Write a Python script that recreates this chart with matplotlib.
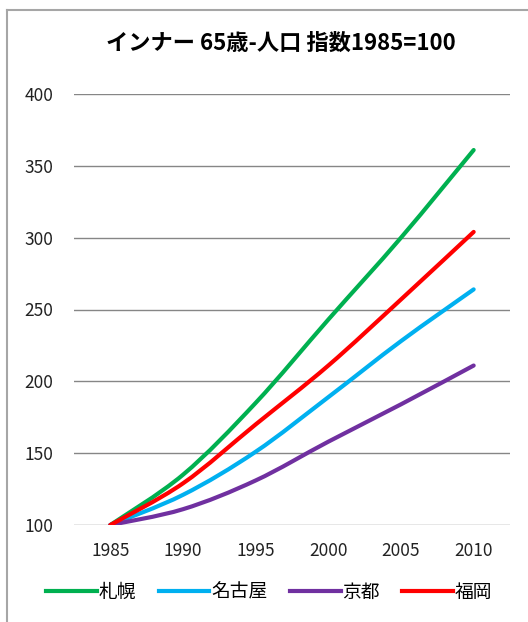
import matplotlib.pyplot as plt
import numpy as np
from matplotlib.lines import Line2D
from matplotlib.patches import PathPatch
from matplotlib.path import Path

plt.rcParams["font.family"] = ["Noto Sans CJK JP", "DejaVu Sans"]

years = ["1985", "1990", "1995", "2000", "2005", "2010"]
sapporo = [100, 135, 185, 243, 300, 361]
nagoya = [100, 121, 151, 189, 228, 264]
kyoto = [100, 111, 131, 158, 184, 211]
fukuoka = [100, 129, 170, 211, 257, 304]

series = [
    ("札幌", sapporo, "#00B050"),
    ("名古屋", nagoya, "#00B0F0"),
    ("京都", kyoto, "#7030A0"),
    ("福岡", fukuoka, "#FF0000"),
]


def smooth_path(xs, ys, k=1 / 6):
    # Excel-style smoothed line: cubic bezier through the points
    pts = np.column_stack([xs, ys]).astype(float)
    verts = [pts[0]]
    codes = [Path.MOVETO]
    n = len(pts)
    for i in range(n - 1):
        p0 = pts[max(i - 1, 0)]
        p1 = pts[i]
        p2 = pts[i + 1]
        p3 = pts[min(i + 2, n - 1)]
        c1 = p1 + (p2 - p0) * k
        c2 = p2 - (p3 - p1) * k
        verts += [c1, c2, p2]
        codes += [Path.CURVE4] * 3
    return Path(verts, codes)


fig = plt.figure(figsize=(5.28, 6.22), dpi=100)
ax = fig.add_axes([74 / 528, 1 - 525 / 622, 436 / 528, 431 / 622])

x = np.arange(len(years))
for name, vals, color in series:
    patch = PathPatch(smooth_path(x, vals), facecolor="none", edgecolor=color,
                      lw=3, capstyle="round", joinstyle="round", zorder=3)
    ax.add_patch(patch)

ax.set_xlim(-0.5, len(years) - 0.5)
ax.set_ylim(100, 400)
ax.set_yticks(range(100, 401, 50))
ax.set_xticks(x)
ax.set_xticklabels(years)
ax.grid(axis="y", color="#868686", lw=1)
ax.set_axisbelow(True)
for s in ax.spines.values():
    s.set_visible(False)
ax.tick_params(axis="both", length=0, labelsize=12.5, colors="#222222")
ax.tick_params(axis="x", pad=12)
ax.tick_params(axis="y", pad=15)

fig.text(0.532, 1 - 43 / 622, "インナー 65歳-人口 指数1985=100", ha="center",
         va="center", fontsize=16, fontweight="bold")

handles = [Line2D([], [], color=c, lw=3) for _, _, c in series]
fig.legend(handles, [n for n, _, _ in series], loc="center",
           bbox_to_anchor=(0.51, 1 - 592 / 622), ncol=4, frameon=False,
           fontsize=13.5, handlelength=2.7, handletextpad=0.1, columnspacing=1.2)

# outer chart border (top and left only visible)
fig.add_artist(Line2D([7 / 528, 7 / 528], [0, 1 - 10 / 622], color="#A6A6A6",
                      lw=1.5, transform=fig.transFigure))
fig.add_artist(Line2D([7 / 528, 1], [1 - 10 / 622, 1 - 10 / 622],
                      color="#A6A6A6", lw=1.5, transform=fig.transFigure))

fig.savefig("out.png", dpi=100)
